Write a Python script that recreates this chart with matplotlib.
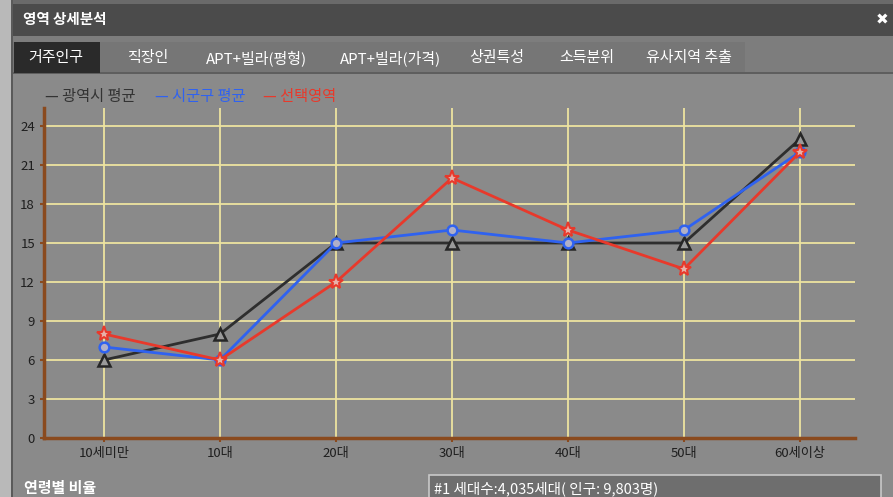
import matplotlib
matplotlib.use("Agg")
import matplotlib.pyplot as plt
from matplotlib.patches import Rectangle

plt.rcParams["font.family"] = ["Noto Sans CJK KR", "DejaVu Sans"]

W, H = 893, 497

ages = ["10세미만", "10대", "20대", "30대", "40대", "50대", "60세이상"]
metro_avg = [6, 8, 15, 15, 15, 15, 23]
district_avg = [7, 6, 15, 16, 15, 16, 22]
selected = [8, 6, 12, 20, 16, 13, 22]
series_names = ["광역시 평균", "시군구 평균", "선택영역"]
tab_labels = ["거주인구", "직장인", "APT+빌라(평형)", "APT+빌라(가격)", "상권특성", "소득분위", "유사지역 추출"]
tab_centers = [56, 148, 256, 390, 497, 587, 689]
yticks = [0, 3, 6, 9, 12, 15, 18, 21, 24]

BG = "#8a8a8a"
GRID = "#ede3a0"
AXIS = "#8a4a1e"


def px(x, y):
    """pixel coords (top-left origin) -> figure fraction"""
    return x / W, 1 - y / H


fig = plt.figure(figsize=(W / 100, H / 100), dpi=100)
fig.patch.set_facecolor(BG)


def box(x0, y0, x1, y1, fc, ec="none", lw=0, z=0):
    fig.add_artist(Rectangle((x0 / W, 1 - y1 / H), (x1 - x0) / W, (y1 - y0) / H,
                             transform=fig.transFigure, facecolor=fc,
                             edgecolor=ec, linewidth=lw, zorder=z))


# window frame
box(0, 0, 11, H, "#b9b9b9")
box(11, 0, 13, H, "#5a5a5a")
box(13, 0, W, 4, "#6a6a6a")
box(13, 4, W, 36, "#4b4b4b")
box(13, 36, W, 73, "#7d7d7d")
box(13, 42, 745, 73, "#767676")
box(13, 72, W, 74, "#5e5e5e")
box(14, 42, 100, 73, "#2a2a2a")

fig.text(*px(23, 19), "영역 상세분석", color="white", fontsize=10.5,
         fontweight="bold", va="center", ha="left")
fig.text(*px(882, 20), "✖", color="white", fontsize=11, va="center", ha="center",
         family=["DejaVu Sans"])

for lab, cx in zip(tab_labels, tab_centers):
    fig.text(*px(cx, 58), lab, color="white", fontsize=10.8, va="center", ha="center")

# legend row
leg_x = [45, 155, 263]
colors = ["#333333", "#2f62f0", "#e8392b"]
for x, name, c in zip(leg_x, series_names, colors):
    fig.text(*px(x, 97), "— " + name, color=c, fontsize=11, va="center", ha="left")

# chart axes
x0, x1, ytop, ybot = 44, 855, 108, 438
ax = fig.add_axes([x0 / W, 1 - ybot / H, (x1 - x0) / W, (ybot - ytop) / H])
ax.set_facecolor(BG)
pos = list(range(len(ages)))
ax.set_xlim(-0.517, 6.474)
ax.set_ylim(0, (ybot - ytop) / 13)
ax.set_yticks(yticks)
ax.set_xticks(pos)
ax.set_xticklabels(ages)
ax.tick_params(colors=AXIS, labelcolor="#1e1e1e", labelsize=9.5, length=3, width=1.5)
for s in ["top", "right"]:
    ax.spines[s].set_visible(False)
for s in ["left", "bottom"]:
    ax.spines[s].set_color(AXIS)
    ax.spines[s].set_linewidth(2.5)
for y in yticks[1:]:
    ax.axhline(y, color=GRID, lw=1.3, zorder=1)
for p in pos:
    ax.plot([p, p], [0, 25.4], color=GRID, lw=1.3, zorder=1)

ax.plot(pos, metro_avg, color="#2e2e2e", lw=2, marker="^", ms=8, mfc="#9a9a9a",
        mec="#262626", mew=1.8, zorder=3)
ax.plot(pos, district_avg, color="#2f62f0", lw=2, marker="o", ms=7, mfc="#b0b0c8",
        mec="#2f62f0", mew=1.8, zorder=4)
ax.plot(pos, selected, color="#e8392b", lw=2, marker="*", ms=11, mfc="#e8b0a8",
        mec="#e8392b", mew=1.5, zorder=5)

# footer
fig.text(*px(24, 488), "연령별 비율", color="white", fontsize=10.8, fontweight="bold",
         va="center", ha="left")
box(429, 475, 881, 500, "#6e6e6e", ec="#c9c9c9", lw=1.2)
fig.text(*px(434, 489), "#1 세대수:4,035세대( 인구: 9,803명)", color="white",
         fontsize=10.5, va="center", ha="left")

fig.savefig("out.png", dpi=100, facecolor=fig.get_facecolor())
